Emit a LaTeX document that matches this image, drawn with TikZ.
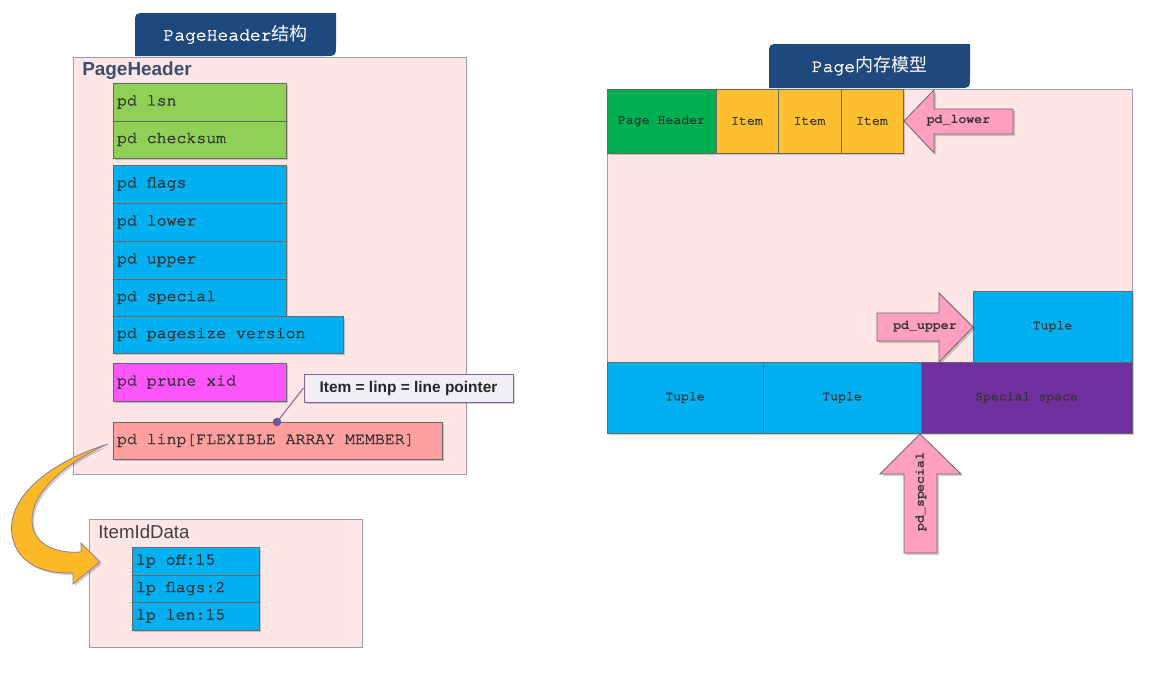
\documentclass[tikz,border=0pt]{standalone}
\usepackage{fontspec}
\setmainfont{Liberation Sans}
\setmonofont{TeX Gyre Cursor}
\newfontfamily\monomed{TeX Gyre Cursor}[FakeBold=2]
\newfontfamily\cjk{Noto Sans CJK SC}
\usetikzlibrary{shadows}

\definecolor{tabblue}{HTML}{1F497D}
\definecolor{bgpink}{HTML}{FFE6E6}
\definecolor{boxedge}{HTML}{9A9AB2}
\definecolor{fgreen}{HTML}{8FD057}
\definecolor{fblue}{HTML}{00B0F0}
\definecolor{fmag}{HTML}{FF55FF}
\definecolor{fsalmon}{HTML}{FF9F9F}
\definecolor{hgreen}{HTML}{00B050}
\definecolor{iyellow}{HTML}{FDBF2D}
\definecolor{spurple}{HTML}{7030A0}
\definecolor{apink}{HTML}{FFA0C0}
\definecolor{ayellow}{HTML}{FDB827}
\definecolor{aedge}{HTML}{8E7C95}
\definecolor{edgegray}{HTML}{666666}
\definecolor{txt}{HTML}{333333}
\definecolor{lblue}{HTML}{3B4E6E}
\definecolor{lgray}{HTML}{404040}
\definecolor{callfill}{HTML}{F1EFF6}
\definecolor{calledge}{HTML}{7F6399}
\definecolor{dotc}{HTML}{6F5A92}

\tikzset{
  softshadow/.style={drop shadow={shadow xshift=1.5pt, shadow yshift=-1.5pt, opacity=0.18, fill=black}},
  field/.style={draw=edgegray, line width=0.75pt, inner xsep=3pt, inner ysep=0pt,
    align=left, font=\fontsize{12.4}{14}\monomed, text=txt, softshadow},
  cell/.style={draw=edgegray, line width=0.75pt, inner sep=0pt, align=center,
    font=\fontsize{9.9}{12}\monomed, text=txt, softshadow},
  panel/.style={draw=boxedge, fill=bgpink, line width=0.75pt, inner sep=0pt},
  blockarrow/.style={draw=edgegray, fill=apink, line width=0.6pt, softshadow},
  arrowlabel/.style={inner sep=0pt, font=\fontsize{9.9}{12}\ttfamily\bfseries, text=txt},
  tabshape/.style={fill=tabblue},
  tabtext/.style={inner sep=0pt, font=\fontsize{13.5}{16}\monomed, text=white},
}

\newcommand{\fieldnode}[7]{%
  \pgfmathsetmacro\fbw{(#4-#2)*0.75}%
  \pgfmathsetmacro\fbh{(#5-#3)*0.75}%
  \pgfmathsetmacro\fbt{(#4-#2)*0.75-6}%
  \node[field, fill=#6, minimum width=\fbw pt, minimum height=\fbh pt, text width=\fbt pt]
    (#1) at ({(#2+#4)/2},{(#3+#5)/2}) {\spaceskip=0pt\xspaceskip=0pt\relax #7};}
\newcommand{\cellnode}[7]{%
  \pgfmathsetmacro\fbw{(#4-#2)*0.75}%
  \pgfmathsetmacro\fbh{(#5-#3)*0.75}%
  \node[cell, fill=#6, minimum width=\fbw pt, minimum height=\fbh pt]
    (#1) at ({(#2+#4)/2},{(#3+#5)/2}) {#7};}
\newcommand{\panelnode}[5]{%
  \pgfmathsetmacro\fbw{(#4-#2)*0.75}%
  \pgfmathsetmacro\fbh{(#5-#3)*0.75}%
  \node[panel, minimum width=\fbw pt, minimum height=\fbh pt]
    (#1) at ({(#2+#4)/2},{(#3+#5)/2}) {};}

\begin{document}
\begin{tikzpicture}[x=0.75pt, y=-0.75pt]
\useasboundingbox (0,0) rectangle (1158,693);

% ---------------- left: PageHeader structure
\panelnode{phpanel}{73}{57}{466}{474}
\fill[tabshape] (135,56) -- (135,24) .. controls (135,13) .. (146,13) -- (336,13)
  -- (336,45) .. controls (336,56) .. (325,56) -- cycle;
\node[tabtext] (tab1) at (235.5,34.5) {PageHeader{\cjk 结构}};
\node[anchor=base west, inner sep=0pt, font=\fontsize{14.2}{16}\selectfont\bfseries, text=lblue]
  (phlabel) at (82,75) {PageHeader};

\fieldnode{lsn}{113}{83}{286}{121}{fgreen}{pd lsn}
\fieldnode{checksum}{113}{121}{286}{158}{fgreen}{pd checksum}
\fieldnode{flags}{113}{165}{286}{203}{fblue}{pd flags}
\fieldnode{lower}{113}{203}{286}{241}{fblue}{pd lower}
\fieldnode{upper}{113}{241}{286}{279}{fblue}{pd upper}
\fieldnode{special}{113}{279}{286}{316}{fblue}{pd special}
\fieldnode{pagesize}{113}{316}{343}{353}{fblue}{pd pagesize version}
\fieldnode{prune}{113}{363}{286}{401}{fmag}{pd prune xid}
\fieldnode{linp}{113}{422}{442}{459}{fsalmon}{pd linp[FLEXIBLE ARRAY MEMBER]}

% callout
\node[draw=calledge, fill=callfill, line width=0.75pt, inner sep=0pt,
  minimum width=156.75pt, minimum height=21pt, softshadow,
  font=\fontsize{11.6}{13}\selectfont\bfseries, text=black!85] (callout) at (408.5,388)
  {Item = linp = line pointer};
\coordinate (dot) at (277,422);
\draw[calledge, line width=0.75pt] (callout.west) -- (dot);
\fill[dotc] (dot) circle (3.2pt);

% ---------------- ItemIdData
\panelnode{idpanel}{89}{519}{362}{647}
\node[anchor=base west, inner sep=0pt, font=\fontsize{14}{16}\selectfont, text=lgray]
  (idlabel) at (98,538) {ItemIdData};
\fieldnode{off}{132}{547}{259}{575}{fblue}{lp off:15}
\fieldnode{lpflags}{132}{575}{259}{602}{fblue}{lp flags:2}
\fieldnode{len}{132}{602}{259}{630}{fblue}{lp len:15}

% curved yellow arrow
\draw[fill=ayellow, draw=aedge, line width=0.6pt, softshadow]
  (108,444) .. controls (55,460) and (6,495) .. (12,535)
  .. controls (17,565) and (45,574) .. (73,573)
  -- (73,584) -- (100,562) -- (81,543) -- (81,552)
  .. controls (52,554) and (32,542) .. (32,520)
  .. controls (32,490) and (70,460) .. (108,444) -- cycle;

% ---------------- right: Page memory model
\panelnode{page}{607}{89}{1132}{433}
\fill[tabshape] (769,88) -- (769,55) .. controls (769,44) .. (780,44) -- (970,44)
  -- (970,77) .. controls (970,88) .. (959,88) -- cycle;
\node[tabtext] (tab2) at (869.5,66) {Page{\cjk 内存模型}};

\cellnode{hdr}{607}{89}{716}{153}{hgreen}{Page Header}
\cellnode{item1}{716}{89}{778}{153}{iyellow}{Item}
\cellnode{item2}{778}{89}{841}{153}{iyellow}{Item}
\cellnode{item3}{841}{89}{903}{153}{iyellow}{Item}
\cellnode{tupr}{973}{291}{1132}{362}{fblue}{Tuple}
\cellnode{tup1}{607}{362}{763}{433}{fblue}{Tuple}
\cellnode{tup2}{763}{362}{921}{433}{fblue}{Tuple}
\cellnode{spec}{921}{362}{1132}{433}{spurple}{Special space}

% block arrows
\draw[blockarrow] (904,121) -- (934,90) -- (934,109) -- (1013,109) -- (1013,134)
  -- (934,134) -- (934,153) -- cycle;
\node[arrowlabel] (lowerlbl) at (958.5,121) {pd\_lower};

\draw[blockarrow] (973,327) -- (939,293) -- (939,313) -- (877,313) -- (877,341)
  -- (939,341) -- (939,362) -- cycle;
\node[arrowlabel] (upperlbl) at (925,327) {pd\_upper};

\draw[blockarrow] (920,434) -- (961,474) -- (937,474) -- (937,553) -- (904,553)
  -- (904,474) -- (880,474) -- cycle;
\node[arrowlabel, rotate=90] (speclbl) at (921,492) {pd\_special};

\end{tikzpicture}
\end{document}
